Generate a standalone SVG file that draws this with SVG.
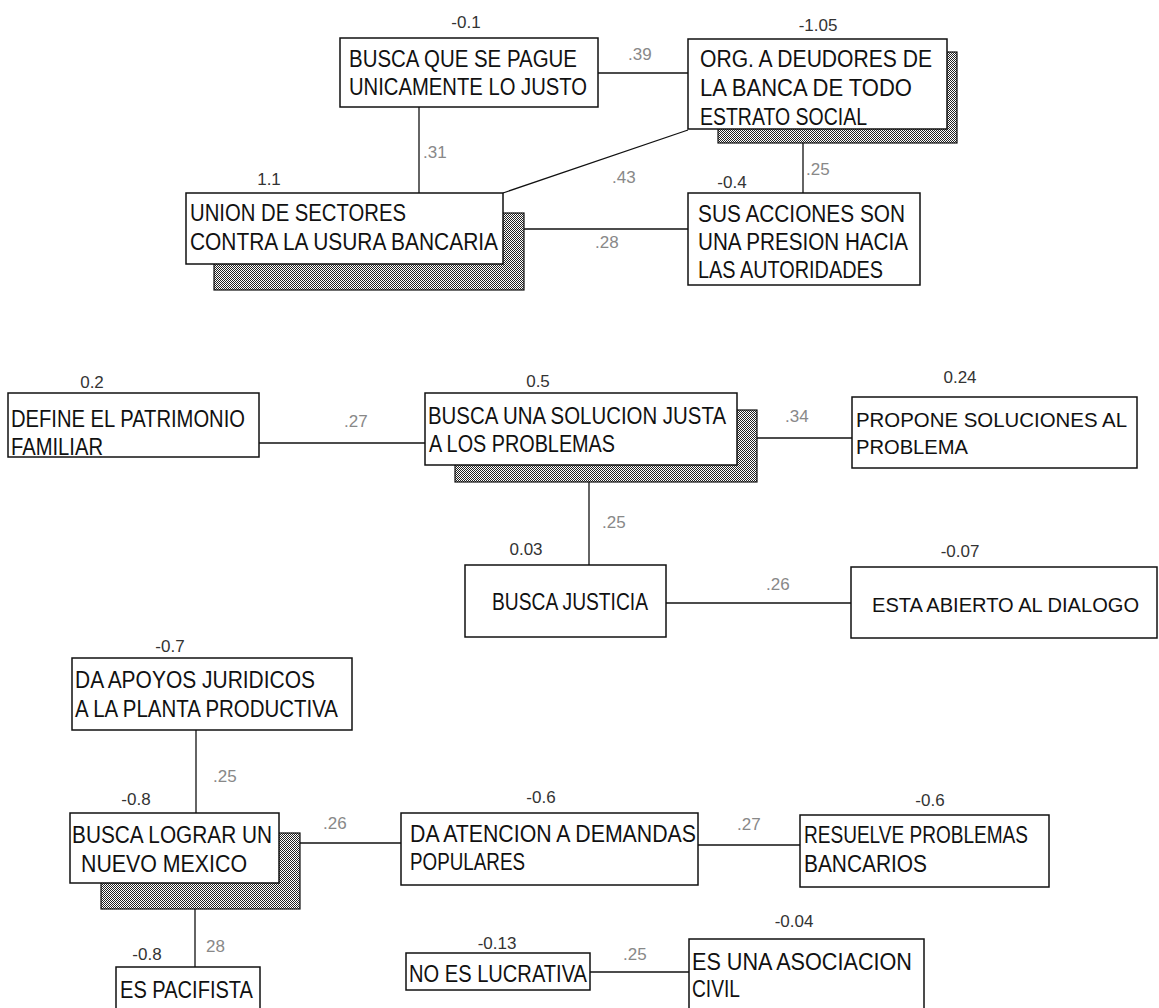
<svg xmlns="http://www.w3.org/2000/svg" width="1159" height="1008" viewBox="0 0 1159 1008">
<defs>
<pattern id="hatch" width="2" height="2" patternUnits="userSpaceOnUse">
<rect width="2" height="2" fill="#ffffff"/>
<rect x="0" y="0" width="1" height="1" fill="#222"/>
<rect x="1" y="1" width="1" height="1" fill="#222"/>
</pattern>
</defs>
<style>
.box{fill:#fff;stroke:#111;stroke-width:1.5}
.sh{fill:url(#hatch);stroke:#111;stroke-width:1.2}
.t{font-family:"Liberation Sans",Arial,sans-serif;font-size:23px;fill:#111}
.v{font-family:"Liberation Sans",Arial,sans-serif;font-size:17px;fill:#333;text-anchor:middle}
.e{font-family:"Liberation Sans",Arial,sans-serif;font-size:17px;fill:#888}
.c line{stroke:#111;stroke-width:1.3}
</style>
<rect width="1159" height="1008" fill="#fff"/>

<g id="connectors" class="c">
<line x1="598" y1="73" x2="688" y2="73"/>
<line x1="419" y1="107" x2="419" y2="193"/>
<line x1="503" y1="193" x2="688" y2="130"/>
<line x1="803" y1="143" x2="803" y2="193"/>
<line x1="524" y1="229" x2="688" y2="229"/>
<line x1="259" y1="443" x2="425" y2="443"/>
<line x1="757" y1="438" x2="852" y2="438"/>
<line x1="589" y1="482" x2="589" y2="565"/>
<line x1="666" y1="603" x2="851" y2="603"/>
<line x1="196" y1="730" x2="196" y2="813"/>
<line x1="300" y1="843" x2="401" y2="843"/>
<line x1="698" y1="845" x2="800" y2="845"/>
<line x1="195" y1="909" x2="195" y2="967"/>
<line x1="590" y1="972" x2="689" y2="972"/>
</g>

<g id="edge-labels">
<text class="e" x="628" y="60">.39</text>
<text class="e" x="423" y="158">.31</text>
<text class="e" x="612" y="183">.43</text>
<text class="e" x="806" y="175">.25</text>
<text class="e" x="595" y="248">.28</text>
<text class="e" x="344" y="427">.27</text>
<text class="e" x="785" y="422">.34</text>
<text class="e" x="602" y="528">.25</text>
<text class="e" x="766" y="590">.26</text>
<text class="e" x="213" y="782">.25</text>
<text class="e" x="323" y="829">.26</text>
<text class="e" x="737" y="830">.27</text>
<text class="e" x="206" y="952">28</text>
<text class="e" x="623" y="960">.25</text>
</g>

<g id="n-paga">
<rect class="box" x="340" y="38" width="258" height="69"/>
<text class="t" x="349" y="67" textLength="228" lengthAdjust="spacingAndGlyphs">BUSCA QUE SE PAGUE</text>
<text class="t" x="349" y="95" textLength="238" lengthAdjust="spacingAndGlyphs">UNICAMENTE LO JUSTO</text>
<text class="v" x="466" y="28">-0.1</text>
</g>

<g id="n-org">
<rect class="sh" x="718" y="52" width="239" height="91"/>
<rect class="box" x="688" y="39" width="259" height="90"/>
<text class="t" x="700" y="67" textLength="232" lengthAdjust="spacingAndGlyphs">ORG. A DEUDORES DE</text>
<text class="t" x="700" y="96" textLength="212" lengthAdjust="spacingAndGlyphs">LA BANCA DE TODO</text>
<text class="t" x="700" y="125" textLength="167" lengthAdjust="spacingAndGlyphs">ESTRATO SOCIAL</text>
<text class="v" x="818" y="31">-1.05</text>
</g>

<g id="n-union">
<rect class="sh" x="214" y="213" width="310" height="77"/>
<rect class="box" x="186" y="193" width="317" height="71"/>
<text class="t" x="190" y="221" textLength="216" lengthAdjust="spacingAndGlyphs">UNION DE SECTORES</text>
<text class="t" x="190" y="250" textLength="308" lengthAdjust="spacingAndGlyphs">CONTRA LA USURA BANCARIA</text>
<text class="v" x="269" y="185">1.1</text>
</g>

<g id="n-sus">
<rect class="box" x="688" y="193" width="232" height="92"/>
<text class="t" x="698" y="222" textLength="207" lengthAdjust="spacingAndGlyphs">SUS ACCIONES SON</text>
<text class="t" x="698" y="250" textLength="210" lengthAdjust="spacingAndGlyphs">UNA PRESION HACIA</text>
<text class="t" x="698" y="278" textLength="185" lengthAdjust="spacingAndGlyphs">LAS AUTORIDADES</text>
<text class="v" x="732" y="188">-0.4</text>
</g>

<g id="n-define">
<rect class="box" x="8" y="393" width="251" height="64"/>
<text class="t" x="11" y="427" textLength="234" lengthAdjust="spacingAndGlyphs">DEFINE EL PATRIMONIO</text>
<text class="t" x="11" y="455" textLength="92" lengthAdjust="spacingAndGlyphs">FAMILIAR</text>
<text class="v" x="92" y="388">0.2</text>
</g>

<g id="n-solucion">
<rect class="sh" x="455" y="410" width="302" height="72"/>
<rect class="box" x="425" y="393" width="312" height="72"/>
<text class="t" x="428" y="424" textLength="298" lengthAdjust="spacingAndGlyphs">BUSCA UNA SOLUCION JUSTA</text>
<text class="t" x="429" y="452" textLength="186" lengthAdjust="spacingAndGlyphs">A LOS PROBLEMAS</text>
<text class="v" x="538" y="387">0.5</text>
</g>

<g id="n-propone">
<rect class="box" x="852" y="397" width="285" height="71"/>
<text class="t" x="856" y="427" textLength="271" lengthAdjust="spacingAndGlyphs" style="font-size:21px">PROPONE SOLUCIONES AL</text>
<text class="t" x="856" y="454" textLength="112" lengthAdjust="spacingAndGlyphs" style="font-size:21px">PROBLEMA</text>
<text class="v" x="960" y="383">0.24</text>
</g>

<g id="n-justicia">
<rect class="box" x="465" y="565" width="201" height="72"/>
<text class="t" x="492" y="610" textLength="156" lengthAdjust="spacingAndGlyphs">BUSCA JUSTICIA</text>
<text class="v" x="526" y="555">0.03</text>
</g>

<g id="n-dialogo">
<rect class="box" x="851" y="567" width="306" height="71"/>
<text class="t" x="872" y="612" textLength="267" lengthAdjust="spacingAndGlyphs" style="font-size:20px">ESTA ABIERTO AL DIALOGO</text>
<text class="v" x="960" y="557">-0.07</text>
</g>

<g id="n-apoyos">
<rect class="box" x="72" y="658" width="280" height="72"/>
<text class="t" x="75" y="688" textLength="240" lengthAdjust="spacingAndGlyphs">DA APOYOS JURIDICOS</text>
<text class="t" x="75" y="717" textLength="263" lengthAdjust="spacingAndGlyphs">A LA PLANTA PRODUCTIVA</text>
<text class="v" x="170" y="652">-0.7</text>
</g>

<g id="n-mexico">
<rect class="sh" x="101" y="833" width="199" height="76"/>
<rect class="box" x="70" y="813" width="209" height="70"/>
<text class="t" x="72" y="843" textLength="200" lengthAdjust="spacingAndGlyphs">BUSCA LOGRAR UN</text>
<text class="t" x="81" y="872" textLength="166" lengthAdjust="spacingAndGlyphs">NUEVO MEXICO</text>
<text class="v" x="136" y="805">-0.8</text>
</g>

<g id="n-demandas">
<rect class="box" x="401" y="813" width="297" height="72"/>
<text class="t" x="410" y="842" textLength="286" lengthAdjust="spacingAndGlyphs">DA ATENCION A DEMANDAS</text>
<text class="t" x="410" y="870" textLength="115" lengthAdjust="spacingAndGlyphs">POPULARES</text>
<text class="v" x="541" y="803">-0.6</text>
</g>

<g id="n-bancarios">
<rect class="box" x="800" y="815" width="249" height="72"/>
<text class="t" x="804" y="843" textLength="224" lengthAdjust="spacingAndGlyphs">RESUELVE PROBLEMAS</text>
<text class="t" x="804" y="872" textLength="123" lengthAdjust="spacingAndGlyphs">BANCARIOS</text>
<text class="v" x="930" y="806">-0.6</text>
</g>

<g id="n-pacifista">
<rect class="box" x="116" y="967" width="144" height="46"/>
<text class="t" x="120" y="998" textLength="133" lengthAdjust="spacingAndGlyphs">ES PACIFISTA</text>
<text class="v" x="147" y="960">-0.8</text>
</g>

<g id="n-lucrativa">
<rect class="box" x="406" y="953" width="184" height="37"/>
<text class="t" x="409" y="982" textLength="178" lengthAdjust="spacingAndGlyphs">NO ES LUCRATIVA</text>
<text class="v" x="497" y="949">-0.13</text>
</g>

<g id="n-civil">
<rect class="box" x="689" y="939" width="235" height="75"/>
<text class="t" x="692" y="970" textLength="220" lengthAdjust="spacingAndGlyphs">ES UNA ASOCIACION</text>
<text class="t" x="692" y="997" textLength="48" lengthAdjust="spacingAndGlyphs">CIVIL</text>
<text class="v" x="794" y="927">-0.04</text>
</g>
</svg>
